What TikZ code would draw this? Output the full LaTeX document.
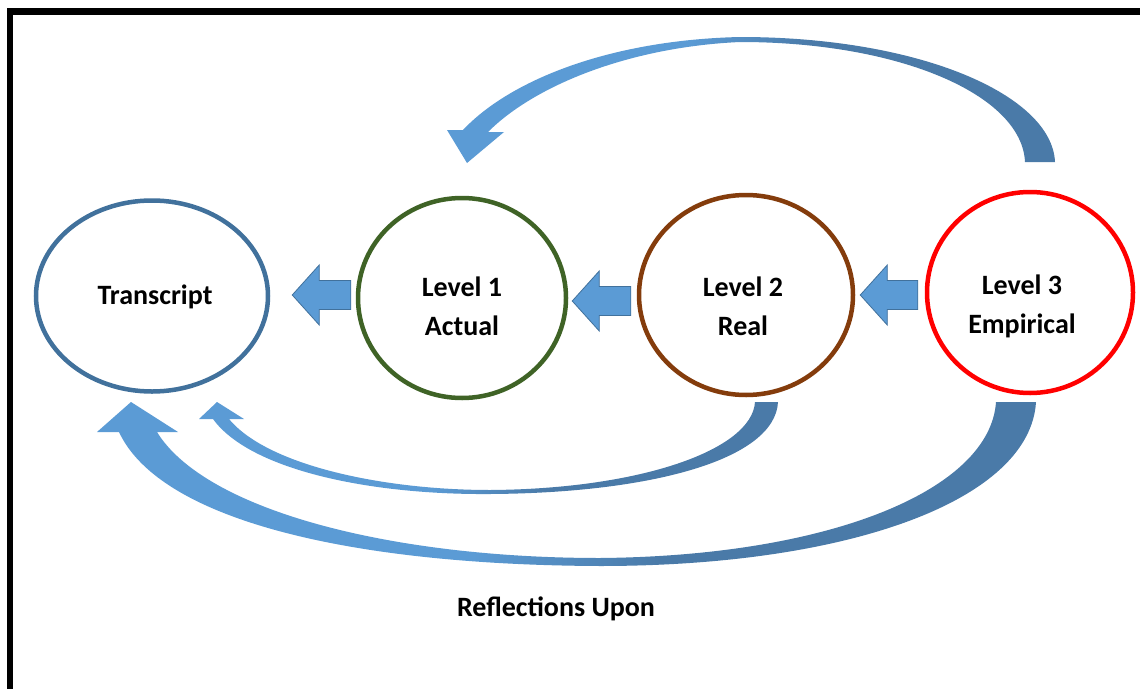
\documentclass[tikz,border=0pt]{standalone}
\usepackage{fontspec}
\setmainfont{Carlito}
\usetikzlibrary{shapes.geometric,calc}
\definecolor{arrLight}{HTML}{5B9BD5}
\definecolor{arrDark}{HTML}{4A7AA8}
\definecolor{arrEdge}{HTML}{41719C}
\definecolor{tBlue}{HTML}{41719C}
\definecolor{lGreen}{HTML}{3F6326}
\definecolor{lBrown}{HTML}{843C0C}
\definecolor{lRed}{HTML}{FF0000}
% light front of a curved arrow turning into its darker back
\pgfdeclarehorizontalshading{arcshade}{100bp}{color(0bp)=(arrLight); color(45bp)=(arrLight); color(55bp)=(arrDark); color(100bp)=(arrDark)}

\begin{document}
\begin{tikzpicture}[x=1pt,y=-1pt,
  every node/.style={font=\fontsize{28}{39}\selectfont\bfseries},
  level/.style={ellipse, draw, line width=4.5pt, inner sep=0pt},
  caption/.style={align=center, inner sep=0pt},
  blockarrow/.style={fill=arrLight, draw=arrEdge, line width=0.8pt,
    to path={let \p1=(\tikztostart), \p2=(\tikztotarget) in
      (\x1,\y1+14.5pt) -- (\x2+27pt,\y1+14.5pt) -- (\x2+27pt,\y1+30pt) -- (\x2,\y1)
      -- (\x2+27pt,\y1-30pt) -- (\x2+27pt,\y1-14.5pt) -- (\x1,\y1-14.5pt) -- cycle}},
  curvedarrow/.style={shade, shading=arcshade}]
\useasboundingbox (0,0) rectangle (1140,688);
\clip (0,0) rectangle (1140,688);
\fill[white] (0,0) rectangle (1140,688);
% frame, running off the right and bottom edges
\draw[line width=6.5pt] (10,11.5) rectangle (1200,760);

% stages
\node[level, draw=tBlue, minimum width=232pt, minimum height=191pt] (T) at (152,296) {};
\node[level, draw=lGreen, minimum width=208pt, minimum height=200pt] (L1) at (462,298) {};
\node[level, draw=lBrown, minimum width=214pt, minimum height=200pt] (L2) at (746,295) {};
\node[level, draw=lRed, minimum width=206pt, minimum height=201pt] (L3) at (1030,292.5) {};

% stage captions
\node[caption] (Ttxt) at (155,297) {Transcript};
\node[caption] (L1txt) at (462,306) {Level 1\\Actual};
\node[caption] (L2txt) at (743,306) {Level 2\\Real};
\node[caption] (L3txt) at (1022,306) {Level 3\\Empirical};

% straight block arrows between neighbouring stages
\draw[blockarrow] ($(L1.west)+(-5,-3)$) to ($(T.east)+(22,-3)$);
\draw[blockarrow] ($(L2.west)+(-6,6)$) to ($(L1.east)+(4,6)$);
\draw[blockarrow] ($(L3.west)+(-7,2.5)$) to ($(L2.east)+(5,2.5)$);

% curved arrow over the top: Level 3 back to Level 1
\path[curvedarrow] (1055,162) .. controls (1052,95) and (920,37) .. (740,37)
  .. controls (610,40) and (510,80) .. (463,130) -- (447,130) -- (467,163) -- (504,132) -- (488,132)
  .. controls (535,85) and (630,47) .. (740,42)
  .. controls (900,42) and (1022,95) .. (1025,162) -- cycle;

% inner curved arrow below: Level 2 back to the transcript
\path[curvedarrow] (778,402) .. controls (775,460) and (650,493) .. (490,494)
  .. controls (370,495) and (250,470) .. (213,419) -- (199,419) -- (217,402) -- (244,419) -- (229,419)
  .. controls (268,466) and (385,490) .. (490,490)
  .. controls (640,489) and (752,450) .. (755,402) -- cycle;

% outer curved arrow below: Level 3 back to the transcript
\path[curvedarrow] (1036,402) .. controls (1030,500) and (850,566) .. (600,566)
  .. controls (350,565) and (160,520) .. (119,432) -- (97,432) -- (131,402) -- (178,432) -- (157,432)
  .. controls (205,510) and (390,558) .. (600,558)
  .. controls (830,556) and (990,490) .. (996,402) -- cycle;

\node (refl) at (556,609) {Reflections Upon};
\end{tikzpicture}
\end{document}
